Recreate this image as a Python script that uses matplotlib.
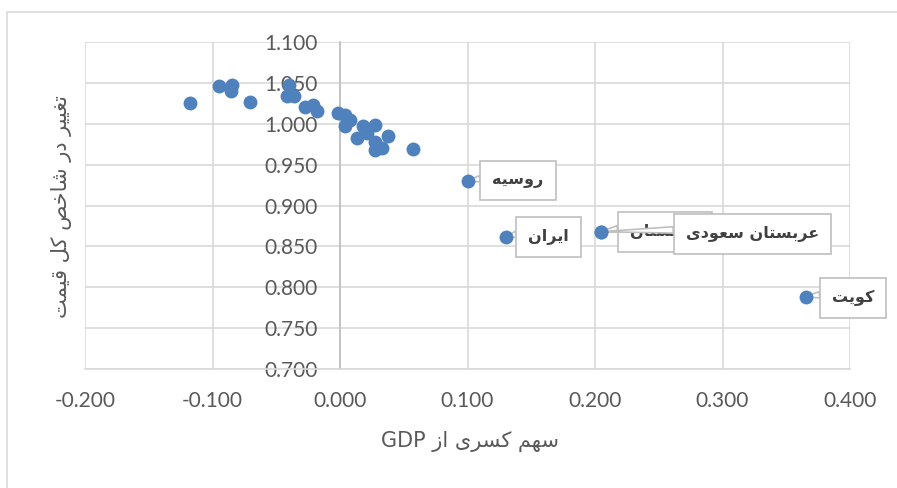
import matplotlib
matplotlib.use('Agg')
import matplotlib.pyplot as plt
from matplotlib.patches import Rectangle

# unlabeled countries
other_x = [-0.1176, -0.0946, -0.0850, -0.0857, -0.0706, -0.0400, -0.0418, -0.0360,
           -0.0275, -0.0210, -0.0180, -0.0013, 0.0039, 0.0078, 0.0040, 0.0183,
           0.0275, 0.0130, 0.0210, 0.0275, 0.0379, 0.0275, 0.0327, 0.0575]
other_y = [1.0253, 1.0456, 1.0477, 1.0395, 1.0265, 1.0477, 1.0334, 1.0334,
           1.0210, 1.0230, 1.0150, 1.0130, 1.0110, 1.0050, 0.9967, 0.9967,
           0.9988, 0.9825, 0.9886, 0.9780, 0.9845, 0.9680, 0.9700, 0.9690]

# labeled countries
label_names = ['روسیه', 'ایران', 'عربستان', 'عربستان سعودی', 'کویت']
label_x = [0.1004, 0.1300, 0.2047, 0.2047, 0.3655]
label_y = [0.9300, 0.8620, 0.8680, 0.8680, 0.7885]
label_offsets = [(36, 0), (31, 0), (46, 0), (109, -2), (34, -1)]

x_ticks = [-0.2, -0.1, 0.0, 0.1, 0.2, 0.3, 0.4]
y_ticks = [0.70, 0.75, 0.80, 0.85, 0.90, 0.95, 1.00, 1.05, 1.10]

x_title = 'سهم کسری از'
y_title = 'تغییر در شاخص کل قیمت'

# (isolated, final, initial, medial)
FORMS = {
    'ا': ('\uFE8D', '\uFE8E'),
    'د': ('\uFEA9', '\uFEAA'),
    'ر': ('\uFEAD', '\uFEAE'),
    'ز': ('\uFEAF', '\uFEB0'),
    'و': ('\uFEED', '\uFEEE'),
    'ب': ('\uFE8F', '\uFE90', '\uFE91', '\uFE92'),
    'ت': ('\uFE95', '\uFE96', '\uFE97', '\uFE98'),
    'خ': ('\uFEA5', '\uFEA6', '\uFEA7', '\uFEA8'),
    'س': ('\uFEB1', '\uFEB2', '\uFEB3', '\uFEB4'),
    'ش': ('\uFEB5', '\uFEB6', '\uFEB7', '\uFEB8'),
    'ص': ('\uFEB9', '\uFEBA', '\uFEBB', '\uFEBC'),
    'ع': ('\uFEC9', '\uFECA', '\uFECB', '\uFECC'),
    'غ': ('\uFECD', '\uFECE', '\uFECF', '\uFED0'),
    'ق': ('\uFED5', '\uFED6', '\uFED7', '\uFED8'),
    'ل': ('\uFEDD', '\uFEDE', '\uFEDF', '\uFEE0'),
    'م': ('\uFEE1', '\uFEE2', '\uFEE3', '\uFEE4'),
    'ن': ('\uFEE5', '\uFEE6', '\uFEE7', '\uFEE8'),
    'ه': ('\uFEE9', '\uFEEA', '\uFEEB', '\uFEEC'),
    'ک': ('\uFB8E', '\uFB8F', '\uFB90', '\uFB91'),
    'ی': ('\uFBFC', '\uFBFD', '\uFBFE', '\uFBFF'),
}


def shape(s):
    """join persian letters and flip to visual order"""
    out = []
    for i, c in enumerate(s):
        if c not in FORMS:
            out.append(c)
            continue
        f = FORMS[c]
        prev = s[i - 1] if i > 0 else ''
        nxt = s[i + 1] if i + 1 < len(s) else ''
        join_prev = prev in FORMS and len(FORMS[prev]) == 4
        join_next = len(f) == 4 and nxt in FORMS
        if join_prev and join_next:
            out.append(f[3])
        elif join_prev:
            out.append(f[1])
        elif join_next:
            out.append(f[2])
        else:
            out.append(f[0])
    return ''.join(reversed(out))


plt.rcParams['font.family'] = ['Lato', 'DejaVu Sans']
W, H = 897, 488
fig = plt.figure(figsize=(W / 100, H / 100), dpi=100)

# chart border (only top/left visible in the crop)
fig.patches.append(Rectangle((7 / W, -0.2), 1.5, 1.2 - 12 / H, transform=fig.transFigure,
                             fill=False, ec='#D9D9D9', lw=1.2))

ax = fig.add_axes([85 / W, 1 - 369 / H, (850 - 85) / W, (369 - 42) / H])
ax.set_xlim(-0.2, 0.4)
ax.set_ylim(0.7, 1.1)
ax.set_xticks(x_ticks)
ax.set_xticklabels(['%.3f' % v for v in x_ticks])
ax.set_yticks(y_ticks)
ax.set_yticklabels(['%.3f' % v for v in y_ticks])
ax.grid(color='#D9D9D9', lw=1.2)
ax.set_axisbelow(True)
for s in ['top', 'right']:
    ax.spines[s].set_visible(False)
ax.spines['left'].set_position(('data', 0))
ax.spines['left'].set_color('#BFBFBF')
ax.spines['left'].set_linewidth(1.2)
ax.spines['bottom'].set_color('#D9D9D9')
ax.spines['bottom'].set_linewidth(1.2)
ax.tick_params(length=0, labelsize=15, colors='#595959', pad=16)

ax.scatter(other_x + label_x, other_y + label_y, s=100, color='#4F81BD',
           zorder=4, clip_on=False, linewidths=0)

for name, x, y, off in zip(label_names, label_x, label_y, label_offsets):
    ax.annotate(shape(name), xy=(x, y), xytext=off, textcoords='offset points',
                ha='center', va='center', fontsize=11.5, fontweight='bold',
                color='#404040', family='DejaVu Sans', zorder=3,
                bbox=dict(boxstyle='square,pad=0.75', fc='white', ec='#BFBFBF', lw=1.2),
                arrowprops=dict(arrowstyle='wedge,tail_width=0.4', fc='white',
                                ec='#BFBFBF', lw=1.2, relpos=(0, 0.8),
                                shrinkA=0, shrinkB=0))

fig.text(470 / W, 1 - 441 / H, 'GDP ' + shape(x_title), ha='center', va='center',
         fontsize=15, color='#595959', family='DejaVu Sans')
fig.text(62 / W, 1 - 207 / H, shape(y_title), ha='center', va='center', rotation=90,
         fontsize=15, color='#595959', family='DejaVu Sans')

fig.savefig('out.png', dpi=100)
